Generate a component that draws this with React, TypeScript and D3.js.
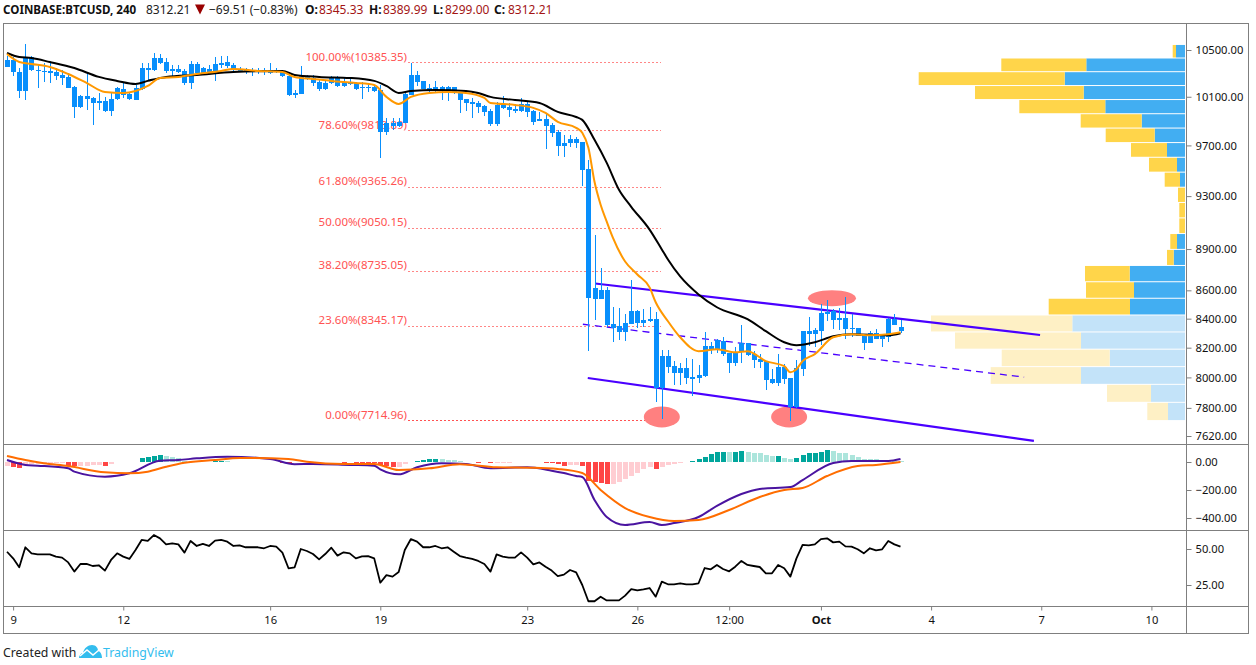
import React, { useEffect, useRef } from 'react';
import * as d3 from 'd3';

const WIDTH = 1256;
const HEIGHT = 665;
const FONT = '"Noto Sans", sans-serif';

// 4h candles, oldest first
const opens = [
  10353, 10413, 10310, 10149, 10439, 10327, 10319, 10319, 10310, 10285,
  10268, 10183, 10015, 10107, 10090, 10048, 10065, 9982, 10082, 10166,
  10124, 10073, 10166, 10344, 10327, 10430, 10396, 10319, 10336, 10319,
  10217, 10379, 10302, 10336, 10302, 10370, 10396, 10370, 10336, 10336,
  10310, 10327, 10310, 10327, 10310, 10319, 10276, 10115, 10124, 10276,
  10259, 10225, 10166, 10217, 10268, 10191, 10225, 10217, 10174, 10183,
  10183, 10157, 9810, 9883, 9859, 9883, 10115, 10285, 10234, 10174,
  10157, 10183, 10149, 10183, 10140, 10082, 10057, 10048, 10023, 9982,
  9875, 10032, 10015, 9998, 9982, 10040, 9982, 9900, 9916, 9867,
  9810, 9697, 9721, 9753, 9729, 9513, 8536, 8600, 8600, 8361,
  8347, 8306, 8361, 8452, 8368, 8382, 8396, 7930, 8142, 8075,
  8029, 8062, 8002, 7996, 8009, 8210, 8190, 8244, 8163, 8095,
  8169, 8230, 8156, 8122, 8109, 7989, 7963, 8069, 7996, 7806,
  8055, 8313, 8292, 8313, 8431, 8452, 8389, 8403, 8326, 8333,
  8285, 8230, 8299, 8258, 8271, 8396, 8345.33,
];
const highs = [
  10448, 10439, 10344, 10552, 10448, 10370, 10387, 10387, 10344, 10327,
  10285, 10191, 10115, 10310, 10099, 10132, 10099, 10132, 10183, 10217,
  10132, 10200, 10387, 10387, 10474, 10465, 10430, 10370, 10370, 10336,
  10405, 10396, 10353, 10370, 10439, 10448, 10448, 10387, 10353, 10344,
  10344, 10344, 10344, 10387, 10344, 10327, 10285, 10157, 10361, 10285,
  10285, 10242, 10242, 10276, 10276, 10259, 10259, 10225, 10225, 10217,
  10200, 10200, 9924, 9924, 9924, 10132, 10387, 10319, 10234, 10208,
  10234, 10191, 10191, 10183, 10140, 10082, 10090, 10065, 10032, 9998,
  10057, 10107, 10048, 10040, 10090, 10065, 9990, 9974, 9957, 9883,
  9826, 9786, 9786, 9770, 9729, 9584, 9007, 8758, 8621, 8480,
  8473, 8431, 8671, 8459, 8466, 8480, 8445, 8183, 8183, 8109,
  8095, 8129, 8122, 8082, 8306, 8237, 8258, 8271, 8163, 8203,
  8354, 8230, 8176, 8156, 8109, 8055, 8156, 8089, 7996, 8115,
  8313, 8410, 8333, 8501, 8529, 8466, 8473, 8550, 8431, 8333,
  8285, 8313, 8326, 8292, 8403, 8431, 8389.99,
];
const lows = [
  10353, 10276, 10090, 10073, 10319, 10174, 10225, 10217, 10242, 10200,
  10174, 9924, 10007, 9990, 9867, 9990, 9974, 9941, 10073, 10090,
  10073, 10073, 10157, 10242, 10319, 10379, 10302, 10276, 10302, 10200,
  10166, 10302, 10293, 10293, 10234, 10344, 10344, 10319, 10310, 10293,
  10276, 10293, 10285, 10293, 10302, 10268, 10107, 10090, 10124, 10242,
  10191, 10149, 10157, 10208, 10183, 10183, 10200, 10157, 10082, 10140,
  10140, 9600, 9786, 9826, 9851, 9883, 10115, 10191, 10166, 10132,
  10132, 10073, 10065, 10124, 9965, 9982, 9924, 9965, 9941, 9859,
  9859, 9998, 9932, 9965, 9974, 9932, 9867, 9900, 9673, 9770,
  9616, 9608, 9689, 9681, 9380, 8176, 8389, 8536, 8340, 8237,
  8251, 8244, 8361, 8333, 8340, 8375, 7838, 7729, 8029, 7950,
  7950, 7956, 7877, 7963, 8002, 8156, 8163, 8142, 8029, 8075,
  8095, 8142, 8062, 8062, 7917, 7956, 7943, 7956, 7715, 7799,
  8009, 8210, 8203, 8217, 8382, 8326, 8320, 8258, 8271, 8278,
  8183, 8230, 8258, 8203, 8237, 8354, 8299,
];
const closes = [
  10413, 10310, 10149, 10439, 10327, 10319, 10310, 10302, 10276, 10259,
  10174, 10015, 10107, 10082, 10048, 10065, 9982, 10082, 10174, 10115,
  10082, 10174, 10344, 10327, 10430, 10387, 10319, 10336, 10310, 10217,
  10379, 10302, 10344, 10302, 10379, 10387, 10361, 10336, 10319, 10310,
  10327, 10310, 10327, 10302, 10327, 10276, 10115, 10132, 10276, 10251,
  10217, 10166, 10217, 10268, 10191, 10225, 10208, 10166, 10183, 10174,
  10149, 9810, 9883, 9859, 9892, 10124, 10285, 10225, 10166, 10157,
  10183, 10149, 10183, 10132, 10073, 10048, 10040, 10015, 9974, 9875,
  10032, 10007, 9990, 9982, 10040, 9974, 9892, 9916, 9859, 9802,
  9697, 9721, 9753, 9721, 9505, 8544, 8614, 8536, 8354, 8333,
  8306, 8368, 8452, 8368, 8389, 8396, 7930, 8142, 8069, 8029,
  8062, 7996, 7989, 8015, 8210, 8190, 8251, 8156, 8095, 8163,
  8230, 8149, 8115, 8102, 7982, 7963, 8069, 7989, 7806, 8062,
  8313, 8292, 8320, 8438, 8445, 8389, 8403, 8326, 8333, 8278,
  8230, 8299, 8258, 8278, 8396, 8354, 8312.21,
];

// moving averages, read at the bars where they bend
const fastIdx = [0, 2, 4, 7, 10, 13, 16, 19, 21, 23, 25, 28, 31, 35, 37, 41, 45, 47, 50, 53, 57, 60, 62, 64, 66, 69, 72, 75, 78, 79, 83, 86, 88, 90, 93, 94, 95, 96, 97, 98, 99, 101, 103, 105, 106, 108, 110, 113, 116, 119, 121, 124, 127, 128, 129, 130, 132, 135, 138, 141, 144, 146];
const fastEma = [10465, 10396, 10379, 10353, 10293, 10217, 10140, 10132, 10149, 10191, 10259, 10268, 10293, 10319, 10336, 10319, 10310, 10268, 10251, 10234, 10217, 10200, 10099, 10040, 10099, 10132, 10140, 10132, 10090, 10048, 10032, 10007, 9965, 9892, 9843, 9802, 9681, 9411, 9234, 9105, 8985, 8808, 8714, 8621, 8515, 8382, 8271, 8176, 8190, 8169, 8176, 8109, 8075, 8035, 8055, 8109, 8156, 8271, 8292, 8285, 8292, 8306];
const slowIdx = [0, 2, 4, 7, 11, 15, 18, 21, 23, 26, 31, 37, 45, 47, 51, 56, 60, 62, 64, 66, 70, 75, 77, 79, 83, 87, 90, 93, 94, 96, 98, 100, 102, 105, 107, 108, 110, 113, 116, 121, 124, 127, 129, 132, 135, 138, 144, 146];
const slowEma = [10474, 10439, 10430, 10396, 10344, 10268, 10234, 10208, 10234, 10268, 10285, 10310, 10319, 10285, 10268, 10259, 10234, 10191, 10132, 10149, 10157, 10149, 10132, 10099, 10073, 10048, 9974, 9932, 9908, 9745, 9560, 9349, 9218, 9045, 8897, 8823, 8700, 8571, 8480, 8396, 8313, 8237, 8217, 8237, 8278, 8292, 8285, 8299];

// fibonacci retracement
const fibRatios = ['100.00%', '78.60%', '61.80%', '50.00%', '38.20%', '23.60%', '0.00%'];
const fibPrices = [10385.35, 9813.89, 9365.26, 9050.15, 8735.05, 8345.17, 7714.96];

// hand drawn channel, [bar, price] at both ends; bars run past the last candle
const upperBars = [96.1, 168.8];
const upperPrices = [8649, 8287];
const middleBars = [94.1, 166.2];
const middlePrices = [8361, 8002];
const lowerBars = [94.9, 167.8];
const lowerPrices = [7996, 7589];
const markerBars = [134.8, 107, 127.8];
const markerPrices = [8544, 7742, 7742];
const markerRx = [24, 18, 18];
const markerRy = [8, 10.5, 10.5];

// volume profile rows, top row first
const profileHigh = 10544;
const profileLow = 7715;
const profileDown = [9, 98.7, 120.3, 101.3, 79.7, 43.3, 30.3, 18, 8, 5, 0, 0, 0, 8, 11.3, 55.3, 51, 55, 112.7, 104, 75.3, 104, 34, 17];
const profileUp = [3.3, 85, 146, 108.7, 86, 61, 49, 36, 28, 15.3, 7, 5.7, 5.7, 6.7, 6.7, 44.7, 48, 81.3, 141.3, 126, 108, 90.3, 44, 20.7];
const profilePaleFrom = 18;

// macd
const macdIdx = [0, 3, 5, 10, 11, 16, 20, 25, 28, 31, 36, 43, 47, 50, 56, 60, 61, 64, 67, 71, 75, 79, 85, 89, 91, 93, 94, 96, 98, 101, 105, 107, 109, 113, 116, 120, 123, 128, 130, 135, 138, 144, 146];
const macdLine = [14, -21, -26, -45, -69, -105, -81, 9, 14, 26, 38, 21, -16, -14, -21, -26, -52, -88, -38, -9, -14, -45, -38, -62, -79, -100, -107, -271, -393, -450, -429, -450, -436, -393, -314, -229, -193, -179, -129, -7, 7, 7, 21];
const signalIdx = [0, 3, 6, 10, 16, 20, 23, 26, 29, 34, 38, 46, 49, 55, 60, 64, 69, 74, 80, 86, 90, 94, 97, 101, 105, 109, 113, 118, 123, 127, 130, 134, 139, 142, 146];
const signalLine = [43, 14, -9, -29, -74, -81, -69, -34, -5, 14, 29, 21, 2, -14, -14, -57, -45, -16, -38, -41, -50, -79, -200, -329, -393, -421, -414, -343, -250, -200, -186, -100, -29, -21, 0];
const macdHist = [
  -29, -36, -43, -19, -17, -14, -12, -10, -7, -7,
  -29, -31, -29, -26, -24, -19, -29, -12, -3, 0,
  0, 3, 28, 36, 43, 50, 45, 33, 32, 10,
  5, 2, 0, 2, 5, 7, 5, 3, 2, 0,
  0, 0, 0, 0, 0, -5, -7, -3, 0, 0,
  0, 0, 0, 0, -3, -5, -2, -5, -6, -7,
  -8, -24, -29, -38, -36, -14, 3, 10, 17, 19,
  20, 19, 17, 12, 7, 2, 0, -5, -3, -10,
  -7, -5, -5, -3, -2, 0, -2, -3, -4, -7,
  -14, -29, -19, -19, -29, -133, -143, -148, -157, -155,
  -143, -119, -100, -76, -52, -33, -48, -33, -24, -14,
  -7, 0, 10, 19, 38, 57, 71, 73, 70, 72,
  76, 71, 62, 61, 48, 43, 45, 29, 19, 29,
  48, 62, 67, 71, 86, 76, 67, 62, 52, 33,
  25, 24, 19, 14, 10, 9, 7,
];

const rsi = [
  48.1, 43.5, 37.3, 51.2, 47, 46.3, 46.3, 46.3, 44.7, 44,
  40.7, 34.3, 39.6, 39.6, 38.2, 38.7, 35, 42.4, 47, 44.7,
  43.1, 49.3, 56.3, 55.6, 59.7, 57.4, 53.2, 53.9, 53.2, 47.5,
  55.6, 52.1, 53.5, 52.1, 55.8, 56.3, 55.1, 52.1, 52.5, 51.2,
  51.2, 51.2, 50.5, 52.1, 51.6, 47.5, 36.6, 37.3, 50, 48.6,
  46.5, 42.8, 46.5, 50.9, 45.4, 47.7, 47, 43.5, 44.9, 45.1,
  43.5, 26.6, 31.9, 30.8, 34, 49.3, 56.9, 55.1, 51.2, 51.2,
  52.1, 50.5, 51.2, 48.1, 45.1, 44, 43.1, 41.7, 39.6, 34.3,
  46.3, 44.7, 44, 44, 47.7, 44, 39.3, 40.7, 37.7, 35,
  31.2, 32.2, 35.4, 33.8, 25, 13.7, 13.7, 16.9, 14.3, 14.3,
  14.3, 17.6, 22.2, 21.3, 22, 22.9, 16.9, 27.3, 25.5, 25.5,
  26.2, 25.5, 25.5, 26.2, 36.8, 35.9, 38.9, 36.1, 34.5, 37.7,
  41.7, 38.9, 38.2, 37.5, 33.1, 33.1, 38.9, 36.6, 30.8, 43.5,
  52.8, 52.5, 53.2, 56.9, 57.4, 54.6, 55.1, 51.8, 51.6, 49.8,
  47, 50.5, 49.1, 49.8, 55.6, 53.2, 51.6,
];

// axes
const priceTicks = [10500, 10100, 9700, 9300, 8900, 8600, 8400, 8200, 8000, 7800, 7620];
const macdTicks = [0, -200, -400];
const rsiTicks = [50, 25];
const timeTickBars = [1, 19, 43, 61, 85, 103, 118, 133, 151, 169, 187];
const timeTickLabels = ['9', '12', '16', '19', '23', '26', '12:00', 'Oct', '4', '7', '10'];

const App: React.FC = () => {
  const chartRef = useRef<SVGSVGElement | null>(null);

  useEffect(() => {
    if (!chartRef.current) return;
    const svg = d3.select(chartRef.current);
    svg.selectAll('*').remove();
    svg.attr('font-family', FONT);

    const left = 3.5;
    const axisX = 1186.5;
    const right = 1248.5;
    const top = 23.5;
    const priceBottom = 444.5;
    const macdBottom = 530.5;
    const rsiBottom = 606.5;
    const bottom = 633.5;

    const x = d3.scaleLinear().domain([0, 146]).range([7, 900.5]);
    const y = d3.scaleLog().domain([10500, 7620]).range([50, 436]);
    const yMacd = d3.scaleLinear().domain([0, -400]).range([462, 518]);
    const yRsi = d3.scaleLinear().domain([50, 25]).range([549, 585]);

    // volume profile
    const rowY = d3
      .scaleLinear()
      .domain([0, profileDown.length])
      .range([profileHigh, profileLow]);
    const vol = d3.scaleLinear().domain([0, 266.3]).range([1185, 918.7]);
    profileDown.forEach((down, i) => {
      const pale = i >= profilePaleFrom;
      const y0 = y(rowY(i));
      const h = y(rowY(i + 1)) - y0 - 1;
      if (down > 0) {
        svg.append('rect')
          .attr('x', vol(down)).attr('y', y0)
          .attr('width', vol(0) - vol(down)).attr('height', h)
          .attr('fill', pale ? '#c3e3f9' : '#42aef2');
      }
      svg.append('rect')
        .attr('x', vol(down + profileUp[i])).attr('y', y0)
        .attr('width', vol(down) - vol(down + profileUp[i])).attr('height', h)
        .attr('fill', pale ? '#fef0c5' : '#ffd54a');
    });

    // fib levels
    fibPrices.forEach((p, i) => {
      const last = i === fibPrices.length - 1;
      svg.append('line')
        .attr('x1', 408).attr('x2', 661)
        .attr('y1', Math.round(y(p)) - 0.5).attr('y2', Math.round(y(p)) - 0.5)
        .attr('stroke', '#ff5252')
        .attr('stroke-opacity', last ? 1 : 0.7)
        .attr('stroke-dasharray', '2 2');
      svg.append('text')
        .attr('x', 407).attr('y', y(p) - 2.5)
        .attr('text-anchor', 'end')
        .attr('font-size', 11.5)
        .attr('fill', '#ff5252')
        .text(`${fibRatios[i]}(${p.toFixed(2)})`);
    });

    // top / bottom markers
    markerBars.forEach((b, i) => {
      svg.append('ellipse')
        .attr('cx', x(b)).attr('cy', y(markerPrices[i]))
        .attr('rx', markerRx[i]).attr('ry', markerRy[i])
        .attr('fill', '#ff8080');
    });

    // channel
    const channel = [
      { bars: upperBars, prices: upperPrices, width: 2.2, dash: null },
      { bars: middleBars, prices: middlePrices, width: 1.3, dash: '7 5' },
      { bars: lowerBars, prices: lowerPrices, width: 2.2, dash: null },
    ];
    channel.forEach((c) => {
      svg.append('line')
        .attr('x1', x(c.bars[0])).attr('y1', y(c.prices[0]))
        .attr('x2', x(c.bars[1])).attr('y2', y(c.prices[1]))
        .attr('stroke', '#4a00ff')
        .attr('stroke-width', c.width)
        .attr('stroke-dasharray', c.dash);
    });

    // candles
    const candles = svg.append('g').attr('shape-rendering', 'crispEdges');
    opens.forEach((o, i) => {
      const cx = Math.round(x(i));
      candles.append('line')
        .attr('x1', cx + 0.5).attr('x2', cx + 0.5)
        .attr('y1', y(highs[i])).attr('y2', y(lows[i]))
        .attr('stroke', '#088ffc');
      const y0 = y(Math.max(o, closes[i]));
      const y1 = y(Math.min(o, closes[i]));
      candles.append('rect')
        .attr('x', cx - 2).attr('y', y0)
        .attr('width', 5).attr('height', Math.max(y1 - y0, 1))
        .attr('fill', '#088ffc');
    });

    const drawLine = (
      bars: number[],
      values: number[],
      scale: (v: number) => number,
      color: string,
      width: number,
      curve: d3.CurveFactory
    ) => {
      const line = d3
        .line<number>()
        .x((_, i) => x(bars[i]))
        .y((v) => scale(v))
        .curve(curve);
      svg.append('path')
        .attr('d', line(values))
        .attr('fill', 'none')
        .attr('stroke', color)
        .attr('stroke-width', width)
        .attr('stroke-linejoin', 'round');
    };

    drawLine(slowIdx, slowEma, y, '#000000', 2, d3.curveMonotoneX);
    drawLine(fastIdx, fastEma, y, '#ff9800', 2, d3.curveMonotoneX);

    // macd histogram
    macdHist.forEach((v, i) => {
      if (v === 0) return;
      const rising = i === 0 || v >= macdHist[i - 1];
      const color = v > 0 ? (rising ? '#00a69c' : '#ace5dc') : rising ? '#ffcdd2' : '#ff4545';
      const y0 = yMacd(Math.max(v, 0));
      const y1 = yMacd(Math.min(v, 0));
      svg.append('rect')
        .attr('x', Math.round(x(i)) - 2).attr('y', y0)
        .attr('width', 5).attr('height', y1 - y0)
        .attr('fill', color)
        .attr('shape-rendering', 'crispEdges');
    });
    drawLine(macdIdx, macdLine, yMacd, '#4a14a0', 2, d3.curveMonotoneX);
    drawLine(signalIdx, signalLine, yMacd, '#ff6d00', 2, d3.curveMonotoneX);

    // rsi
    drawLine(d3.range(rsi.length), rsi, yRsi, '#000000', 1.8, d3.curveLinear);

    // frame and pane separators
    const frame = svg.append('g')
      .attr('stroke', '#7f7f7f')
      .attr('fill', 'none')
      .attr('shape-rendering', 'crispEdges');
    frame.append('rect')
      .attr('x', left).attr('y', top)
      .attr('width', right - left).attr('height', bottom - top);
    frame.append('line').attr('x1', axisX).attr('x2', axisX).attr('y1', top).attr('y2', bottom);
    [priceBottom, macdBottom, rsiBottom].forEach((py) => {
      frame.append('line').attr('x1', left).attr('x2', right).attr('y1', py).attr('y2', py);
    });

    // axes
    const styleAxis = (g: d3.Selection<SVGGElement, unknown, null, undefined>) => {
      g.select('.domain').remove();
      g.selectAll('.tick line').attr('stroke', '#7f7f7f');
      g.selectAll('.tick text').attr('fill', '#111').attr('font-family', FONT).attr('font-size', 11.2);
    };
    const minus = (s: string) => s.replace('-', '\u2212');

    svg.append('g')
      .attr('transform', `translate(${axisX},0)`)
      .call(d3.axisRight(y).tickValues(priceTicks).tickSize(5).tickPadding(4).tickFormat((d) => (+d).toFixed(2)))
      .call(styleAxis);
    svg.append('g')
      .attr('transform', `translate(${axisX},0)`)
      .call(d3.axisRight(yMacd).tickValues(macdTicks).tickSize(5).tickPadding(4).tickFormat((d) => minus((+d).toFixed(2))))
      .call(styleAxis);
    svg.append('g')
      .attr('transform', `translate(${axisX},0)`)
      .call(d3.axisRight(yRsi).tickValues(rsiTicks).tickSize(5).tickPadding(4).tickFormat((d) => (+d).toFixed(2)))
      .call(styleAxis);
    svg.append('g')
      .attr('transform', `translate(0,${rsiBottom})`)
      .call(
        d3.axisBottom(x)
          .tickValues(timeTickBars)
          .tickSize(4)
          .tickPadding(6)
          .tickFormat((_, i) => timeTickLabels[i])
      )
      .call(styleAxis)
      .selectAll('.tick text')
      .attr('font-weight', (_, i) => (timeTickLabels[i] === 'Oct' ? 700 : 400));

    // header
    const header = svg.append('g').attr('font-size', 12);
    const red = '#a31515';
    const headerParts: [number, string, string, number, number][] = [
      [3, 'COINBASE:BTCUSD, 240', '#111', 700, 11.6],
      [146, '8312.21', '#222', 400, 12],
      [209, '\u221269.51 (\u22120.83%)', '#222', 400, 12],
      [305, 'O:', '#111', 700, 12],
      [319, '8345.33', red, 400, 12],
      [369, 'H:', '#111', 700, 12],
      [383, '8389.99', red, 400, 12],
      [433, 'L:', '#111', 700, 12],
      [445, '8299.00', red, 400, 12],
      [494, 'C:', '#111', 700, 12],
      [508, '8312.21', red, 400, 12],
    ];
    headerParts.forEach(([px, label, color, weight, size]) => {
      header.append('text')
        .attr('x', px).attr('y', 14)
        .attr('fill', color)
        .attr('font-weight', weight)
        .attr('font-size', size)
        .text(label);
    });
    svg.append('path').attr('d', 'M195 4.5h10l-5 10z').attr('fill', '#990000');

    // footer
    svg.append('text')
      .attr('x', 3).attr('y', 656.5)
      .attr('font-size', 12.3)
      .attr('fill', '#222')
      .text('Created with');
    svg.append('path')
      .attr('d', 'M79 658c0-3 2-5 4-5 1-5 5-8 9-8 4 0 6 3 6 6 2 0 4 3 4 7z')
      .attr('fill', '#33bdee');
    svg.append('path')
      .attr('d', 'M80 656l7-6 6 5 6-5')
      .attr('fill', 'none')
      .attr('stroke', '#fff')
      .attr('stroke-width', 1.5);
    svg.append('text')
      .attr('x', 103).attr('y', 656.5)
      .attr('font-size', 12.3)
      .attr('fill', '#33bdee')
      .text('TradingView');
  }, []);

  return (
    <svg
      ref={chartRef}
      width={WIDTH}
      height={HEIGHT}
      style={{ position: 'absolute', left: 0, top: 0, background: '#fff' }}
    ></svg>
  );
};

export default App;
